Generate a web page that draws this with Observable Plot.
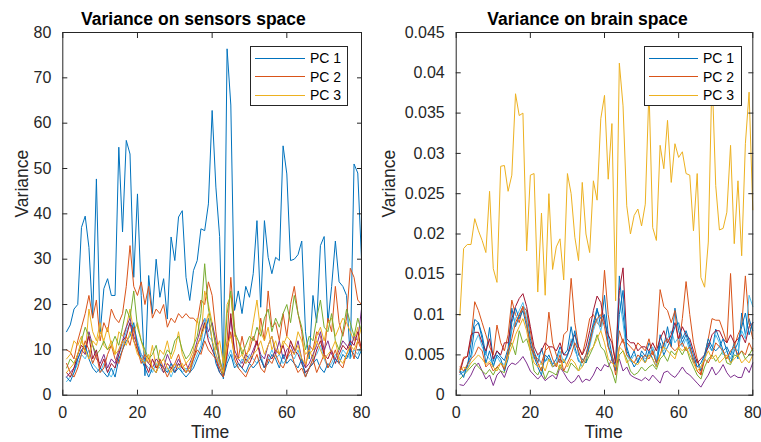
<!DOCTYPE html>
<html><head><meta charset="utf-8">
<script src="https://cdn.jsdelivr.net/npm/d3@7"></script>
<script src="https://cdn.jsdelivr.net/npm/@observablehq/plot@0.6"></script>
<style>
body{margin:0;background:#fff;}
#wrap{position:relative;width:761px;height:442px;overflow:hidden;font-family:"Liberation Sans",Arial,sans-serif;}
#wrap svg{position:absolute;top:0;}
.legend{position:absolute;background:#fff;border:1px solid #262626;box-sizing:border-box;width:98px;height:60px;top:46px;}
.legend .ln{position:absolute;height:1px;}
.legend .tx{position:absolute;font-size:14px;line-height:14px;color:#000;}
</style></head><body><div id="wrap"></div>
<script>
// ---- data: sensors space (10 components, time 1..80) ----
const s1 = [14,15.5,19,20,37,39.5,32.6,17,47.7,13.6, 23.5,25.7,22,22,54.7,36,56.2,53.2,26,44.4, 22,4.3,26.4,18,30,21.6,25.7,16.8,34.9,29.7, 39.3,40.7,26,20.9,27.5,29.7,36.7,36.3,42.2,62.8, 45.9,35,3.6,76.4,64,18.7,23,18,24,21.6, 26.8,38.5,19.4,38.5,30.4,26.8,30.4,29.7,55,48.8, 29.7,30,31,34,14,8,22,16,33,35, 16,24,34,25,24,22,8,51,49,30];
const s2 = [10,9.5,8,12,15,18,22,17,21,12, 16,14,19,17,16,18,24,33,24,22, 25,20,24,17,19,18,20,15,17,16, 18,17,18,17,17,16,21,20,25,22, 14,8,5,12,26,15,8,13,9,10, 13,11,17,12,23,15,16,12,18,13, 20,24,18,14,6,11,10,14,13,9, 17,14,24,16,13,17,28,26,21,20];
const s3 = [8,9,12,11,13,9,19,14,12,16, 11,10,12,9,14,13,15,19,14,16, 12,9,7,11,6,10,9,12,8,10, 14,9,7,8,10,17,12,23,20,16, 10,12,7,20,22,13,12,10,8,11, 16,21,14,12,15,10,12,9,11,13, 12,10,14,12,9,10,8,13,15,12, 16,17,13,15,17,16,14,12,15,9];
const s4 = [4,5,6,8,10,9,14,11,8,7, 9,6,8,7,10,12,15,17,13,11, 9,8,7,6,8,7,6,9,7,6, 8,6,5,7,9,12,15,17,14,16, 12,7,5,9,17,10,8,7,9,8, 10,12,9,8,11,13,9,12,8,10, 11,9,12,8,6,7,9,11,14,10, 12,9,8,10,12,11,10,13,12,19];
const s5 = [6,8,7,9,12,15,13,11,9,10, 12,10,11,13,11,15,19,17,23,15, 12,10,8,9,11,7,8,10,9,12, 13,10,8,9,11,13,18,29,19,15, 11,8,4,18,23,14,12,9,11,13, 12,15,13,17,19,14,17,15,18,20, 16,22,18,15,10,13,12,17,21,15, 14,18,12,10,14,19,16,13,17,14];
const s6 = [3,4,5,7,9,8,10,7,6,5, 7,5,4,6,9,11,14,16,15,12, 9,7,6,5,7,6,5,6,4,6, 7,5,6,5,7,9,11,17,13,12, 9,6,4,8,10,7,6,8,7,9, 8,7,9,6,8,10,8,9,7,8, 9,8,10,7,5,6,8,9,11,8, 6,7,9,8,10,9,8,10,9,11];
const s7 = [5,4,6,9,11,10,13,8,10,6, 8,5,7,6,9,12,13,16,12,10, 8,7,5,8,6,7,5,7,6,5, 7,6,5,6,8,11,13,16,12,10, 8,5,4,9,18,9,7,6,8,7, 9,12,8,6,9,8,10,9,11,8, 12,10,9,7,5,6,7,10,12,9, 8,10,7,9,11,10,12,11,14,10];
const s8 = [4,3,5,8,10,11,8,6,5,6, 5,4,6,4,8,10,12,13,16,11, 8,6,4,6,5,7,6,5,7,5, 6,5,4,5,6,8,10,13,17,12, 7,5,4,7,9,6,7,6,5,7, 6,7,8,6,7,9,8,6,9,7, 8,7,6,8,4,6,7,8,6,5, 7,6,8,7,9,8,10,9,8,10];
const s9 = [7,5,4,6,9,12,10,7,9,5, 6,9,11,8,7,10,13,11,15,10, 7,9,8,6,5,8,6,4,6,7, 9,6,7,5,8,10,9,12,10,9, 8,6,4,10,14,8,6,5,4,6, 7,9,6,5,8,7,9,7,6,8, 10,7,5,6,4,6,8,5,7,9, 6,8,10,7,6,9,11,8,12,10];
const s10 = [5,6,7,9,12,10,8,12,11,14, 12,15,11,9,10,12,11,14,12,9, 8,7,9,6,5,7,8,6,5,7, 6,7,5,6,9,11,13,15,18,12, 9,7,5,11,13,9,8,9,7,8, 9,10,12,9,11,13,10,9,12,11, 10,9,11,8,7,9,10,12,10,8, 9,10,12,8,7,9,11,10,12,15];

// ---- data: brain space ----
const b1 = [.0026,.0029,.0035,.0065,.0094,.0090,.0075,.0050,.0084,.0042, .0055,.0048,.0043,.0058,.0108,.0085,.0098,.0110,.0105,.0070, .0055,.0040,.0058,.0042,.0050,.0038,.0045,.0060,.0050,.0056, .0085,.0060,.0042,.0040,.0050,.0070,.0090,.0108,.0085,.0124, .0075,.0050,.0035,.0148,.0100,.0060,.0045,.0055,.0040,.0055, .0048,.0065,.0055,.0040,.0075,.0060,.0085,.0060,.0108,.0080, .0065,.0075,.0060,.0040,.0045,.0030,.0045,.0065,.0055,.0082, .0070,.0055,.0060,.0050,.0065,.0045,.0102,.0075,.0095,.0080];
const b2 = [.0032,.0047,.0048,.0070,.0116,.0105,.0090,.0075,.0060,.0050, .0087,.0065,.0055,.0075,.0118,.0100,.0090,.0110,.0105,.0080, .0050,.0045,.0040,.0055,.0103,.0065,.0050,.0040,.0075,.0080, .0145,.0090,.0060,.0050,.0070,.0095,.0100,.0090,.0085,.0155, .0100,.0070,.0040,.0080,.0065,.0065,.0060,.0055,.0065,.0060, .0055,.0070,.0050,.0060,.0131,.0110,.0105,.0090,.0105,.0060, .0095,.0141,.0100,.0065,.0045,.0025,.0050,.0070,.0095,.0093, .0093,.0080,.0065,.0151,.0060,.0075,.0085,.0148,.0090,.0070];
const b3 = [.0099,.0182,.0187,.0187,.0219,.0204,.0192,.0177,.0253,.0157, .0140,.0284,.0285,.0253,.0273,.0374,.0347,.0350,.0179,.0273, .0275,.0128,.0226,.0124,.0250,.0156,.0184,.0194,.0143,.0275, .0250,.0196,.0167,.0264,.0200,.0177,.0266,.0242,.0343,.0372, .0268,.0337,.0117,.0412,.0359,.0235,.0200,.0223,.0231,.0210, .0237,.0380,.0208,.0192,.0310,.0281,.0341,.0264,.0312,.0295, .0302,.0275,.0273,.0204,.0275,.0146,.0134,.0190,.0400,.0260, .0205,.0207,.0227,.0310,.0188,.0266,.0173,.0312,.0376,.0230];
const b4 = [.0013,.0012,.0018,.0025,.0035,.0040,.0030,.0020,.0025,.0012, .0025,.0030,.0022,.0035,.0040,.0038,.0042,.0048,.0040,.0030, .0025,.0020,.0025,.0018,.0022,.0025,.0020,.0035,.0028,.0020, .0015,.0018,.0025,.0016,.0020,.0018,.0025,.0035,.0030,.0038, .0035,.0045,.0038,.0045,.0030,.0035,.0025,.0022,.0020,.0018, .0022,.0018,.0025,.0020,.0015,.0028,.0030,.0025,.0022,.0028, .0035,.0028,.0025,.0020,.0015,.0010,.0018,.0025,.0035,.0025, .0030,.0038,.0028,.0022,.0025,.0022,.0022,.0035,.0028,.0040];
const b5 = [.0020,.0025,.0030,.0035,.0040,.0035,.0030,.0026,.0032,.0025, .0035,.0030,.0028,.0055,.0065,.0050,.0080,.0065,.0070,.0055, .0030,.0025,.0035,.0020,.0030,.0028,.0025,.0038,.0030,.0028, .0040,.0035,.0030,.0045,.0040,.0050,.0060,.0075,.0060,.0055, .0040,.0030,.0015,.0050,.0055,.0045,.0030,.0025,.0028,.0035, .0030,.0035,.0038,.0032,.0045,.0050,.0042,.0055,.0050,.0058, .0050,.0060,.0045,.0035,.0025,.0020,.0035,.0045,.0050,.0042, .0048,.0055,.0040,.0038,.0050,.0048,.0055,.0045,.0050,.0058];
const b6 = [.0030,.0028,.0032,.0045,.0065,.0075,.0060,.0050,.0045,.0038, .0048,.0040,.0038,.0050,.0080,.0095,.0105,.0115,.0095,.0060, .0045,.0050,.0038,.0042,.0045,.0035,.0040,.0055,.0040,.0048, .0070,.0055,.0045,.0035,.0045,.0060,.0080,.0095,.0080,.0100, .0065,.0045,.0030,.0120,.0090,.0050,.0042,.0050,.0045,.0050, .0045,.0050,.0060,.0045,.0060,.0055,.0070,.0080,.0065,.0072, .0060,.0070,.0055,.0045,.0035,.0035,.0048,.0060,.0055,.0075, .0065,.0050,.0055,.0045,.0060,.0055,.0080,.0070,.0124,.0110];
const b7 = [.0028,.0045,.0048,.0075,.0078,.0078,.0065,.0055,.0070,.0045, .0055,.0050,.0065,.0065,.0095,.0110,.0120,.0126,.0110,.0085, .0060,.0050,.0055,.0065,.0060,.0060,.0055,.0065,.0050,.0050, .0065,.0075,.0060,.0050,.0060,.0080,.0105,.0123,.0115,.0090, .0075,.0065,.0040,.0130,.0158,.0070,.0065,.0065,.0055,.0060, .0060,.0055,.0065,.0055,.0070,.0080,.0065,.0075,.0090,.0070, .0085,.0075,.0070,.0055,.0040,.0045,.0050,.0060,.0075,.0080, .0080,.0070,.0065,.0075,.0065,.0070,.0075,.0065,.0085,.0090];
const b8 = [.0030,.0022,.0038,.0050,.0085,.0090,.0070,.0040,.0055,.0035, .0050,.0045,.0030,.0045,.0090,.0108,.0095,.0105,.0085,.0065, .0048,.0035,.0025,.0050,.0045,.0035,.0038,.0045,.0040,.0050, .0060,.0080,.0050,.0045,.0040,.0065,.0085,.0105,.0095,.0100, .0060,.0045,.0030,.0100,.0130,.0055,.0045,.0035,.0042,.0050, .0040,.0055,.0045,.0035,.0065,.0050,.0060,.0070,.0085,.0090, .0070,.0080,.0065,.0050,.0035,.0040,.0050,.0070,.0060,.0055, .0060,.0070,.0055,.0040,.0055,.0065,.0085,.0102,.0075,.0090];
const b9 = [.0035,.0030,.0038,.0045,.0050,.0060,.0055,.0035,.0040,.0030, .0035,.0040,.0032,.0055,.0070,.0090,.0100,.0110,.0090,.0060, .0050,.0040,.0030,.0055,.0060,.0045,.0035,.0050,.0030,.0040, .0050,.0065,.0055,.0040,.0050,.0065,.0085,.0095,.0100,.0085, .0060,.0050,.0025,.0060,.0070,.0050,.0045,.0040,.0050,.0045, .0050,.0045,.0055,.0040,.0050,.0065,.0070,.0060,.0055,.0060, .0065,.0055,.0060,.0045,.0030,.0025,.0045,.0040,.0050,.0065, .0060,.0055,.0045,.0055,.0060,.0050,.0055,.0050,.0065,.0055];
const b10 = [.0030,.0035,.0032,.0040,.0045,.0050,.0045,.0038,.0042,.0035, .0030,.0040,.0035,.0048,.0060,.0075,.0085,.0095,.0080,.0055, .0040,.0035,.0040,.0030,.0045,.0035,.0040,.0032,.0045,.0035, .0045,.0040,.0030,.0035,.0045,.0055,.0060,.0070,.0080,.0065, .0045,.0040,.0035,.0060,.0055,.0040,.0045,.0040,.0038,.0045, .0040,.0050,.0045,.0035,.0050,.0060,.0055,.0050,.0045,.0060, .0055,.0060,.0050,.0040,.0030,.0035,.0045,.0055,.0045,.0050, .0040,.0045,.0050,.0040,.0045,.0050,.0040,.0045,.0040,.0050];

const lineColors = ["#0072BD","#D95319","#EDB120","#7E2F8E","#77AC30","#4DBEEE","#A2142F","#0072BD","#D95319","#EDB120"];
const legendLabels = ["PC 1","PC 2","PC 3"];
const xTicks = [0,20,40,60,80];
const ySensorTicks = [0,10,20,30,40,50,60,70,80];
const yBrainTicks = [0,0.005,0.01,0.015,0.02,0.025,0.03,0.035,0.04,0.045];
const sensorSeries = [s1,s2,s3,s4,s5,s6,s7,s8,s9,s10];
const brainSeries = [b1,b2,b3,b4,b5,b6,b7,b8,b9,b10];

const FONT = '"Liberation Sans", Arial, Helvetica, sans-serif';
const AX = "#262626";

function panel({series, yDomain, yTicks, title, width, marginLeft, marginRight, titleDx, titleDy, ylabDx, xlabDx}) {
  const lines = series.map((s, i) => Plot.line(s, {x: (d, j) => j + 1, y: d => d, stroke: lineColors[i], strokeWidth: 1}));
  return Plot.plot({
    width, height: 442,
    marginLeft, marginRight, marginTop: 32, marginBottom: 47.3,
    x: {domain: [0, 80]},
    y: {domain: yDomain},
    style: {fontFamily: FONT, fontSize: "16px", color: AX, background: "transparent", overflow: "visible"},
    marks: [
      ...lines,
      Plot.frame({stroke: AX, strokeWidth: 1}),
      Plot.axisX(xTicks, {anchor: "bottom", tickSize: -5, tickPadding: 16, label: null, tickFormat: d => String(d), stroke: AX}),
      Plot.axisX(xTicks, {anchor: "top", tickSize: -5, tickPadding: 0, label: null, tickFormat: () => "", stroke: AX}),
      Plot.axisY(yTicks, {anchor: "left", tickSize: -5, tickPadding: 16.5, label: null, tickFormat: d => String(d), stroke: AX}),
      Plot.axisY(yTicks, {anchor: "right", tickSize: -5, tickPadding: 0, label: null, tickFormat: () => "", stroke: AX}),
      Plot.text([title], {text: d => d, frameAnchor: "top", lineAnchor: "middle", dx: titleDx, dy: titleDy, fontWeight: "bold", fontSize: 17.5, fill: "#000"}),
      Plot.text(["Time"], {text: d => d, frameAnchor: "bottom", lineAnchor: "middle", dx: xlabDx, dy: 36.7, fontSize: 17.5, fill: AX}),
      Plot.text(["Variance"], {text: d => d, frameAnchor: "left", lineAnchor: "middle", rotate: -90, dx: ylabDx, dy: 3.7, fontSize: 17.5, fill: AX})
    ]
  });
}

const wrap = document.getElementById("wrap");
const left = panel({series: sensorSeries, yDomain: [0, 80], yTicks: ySensorTicks, title: "Variance on sensors space",
  width: 380, marginLeft: 62.3, marginRight: 19, titleDx: -18.7, titleDy: -13.6, ylabDx: -40.9, xlabDx: -2});
left.style.left = "0px";
wrap.appendChild(left);
const right = panel({series: brainSeries, yDomain: [0, 0.045], yTicks: yBrainTicks, title: "Variance on brain space",
  width: 381, marginLeft: 75.7, marginRight: 8.7, titleDx: -17, titleDy: -13.6, ylabDx: -67.3, xlabDx: -1});
right.style.left = "380px";
wrap.appendChild(right);

function legend(x, lineStart, lineEnd, textX) {
  const box = document.createElement("div");
  box.className = "legend";
  box.style.left = x + "px";
  const rows = [12.3, 30.7, 49];
  legendLabels.forEach((lab, i) => {
    const ln = document.createElement("div");
    ln.className = "ln";
    ln.style.left = lineStart + "px"; ln.style.width = (lineEnd - lineStart) + "px";
    ln.style.top = (rows[i] - 1.5) + "px"; ln.style.background = lineColors[i];
    box.appendChild(ln);
    const tx = document.createElement("div");
    tx.className = "tx"; tx.textContent = lab;
    tx.style.left = textX + "px"; tx.style.top = (rows[i] - 8) + "px";
    box.appendChild(tx);
  });
  wrap.appendChild(box);
}
legend(250, 4, 54, 59);
legend(644, 4, 53, 58);
</script></body></html>
